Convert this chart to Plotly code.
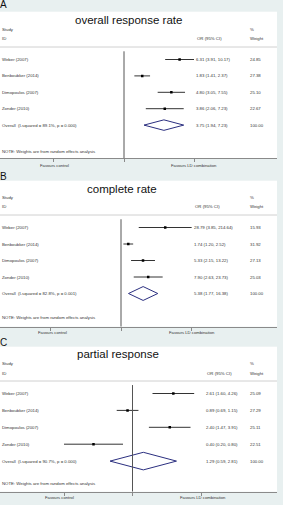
import math
import plotly.graph_objects as go

# ---------------- data ----------------
studies = ["Weber (2007)", "Benboubker (2014)", "Dimopoulos (2007)", "Zonder (2010)"]

titles = ["overall response rate", "complete rate", "partial response"]
letters = ["A", "B", "C"]

or_a = [6.31, 1.83, 4.80, 3.86]
lo_a = [3.91, 1.41, 3.05, 2.06]
hi_a = [10.17, 2.37, 7.55, 7.23]
wt_a = [24.85, 27.38, 25.10, 22.67]
overall_a = [3.75, 1.94, 7.23]
het_a = ["89.1%", "0.000"]
axmax_a = 10.17

or_b = [28.79, 1.74, 5.33, 7.90]
lo_b = [3.85, 1.20, 2.15, 2.63]
hi_b = [214.64, 2.52, 13.22, 23.73]
wt_b = [15.93, 31.92, 27.13, 25.03]
overall_b = [5.38, 1.77, 16.38]
het_b = ["82.8%", "0.001"]
axmax_b = 214.64

or_c = [2.61, 0.89, 2.40, 0.40]
lo_c = [1.60, 0.69, 1.47, 0.20]
hi_c = [4.26, 1.15, 3.91, 0.80]
wt_c = [25.09, 27.29, 25.11, 22.51]
overall_c = [1.29, 0.59, 2.81]
het_c = ["90.7%", "0.000"]
axmax_c = 5.0

data = [
    (or_a, lo_a, hi_a, wt_a, overall_a, het_a, axmax_a),
    (or_b, lo_b, hi_b, wt_b, overall_b, het_b, axmax_b),
    (or_c, lo_c, hi_c, wt_c, overall_c, het_c, axmax_c),
]

# ---------------- layout (pixel geometry) ----------------
W, H = 283, 505
PLOT_R = 277
geo = [
    dict(top=11.7, bottom=158.3, row1=59.5, sp=16.4, xnull=124, ppd=69.5, dh=0.32,
         orx=195.5, tx=128, ty=20, ly=4, note=151, favl=54, favr=194, favy=165),
    dict(top=180.7, bottom=326.7, row1=227.5, sp=16.5, xnull=121, ppd=30.3, dh=0.42,
         orx=194, tx=122, ty=189.3, ly=176.7, note=317.7, favl=52, favr=191.7, favy=332.7),
    dict(top=346.7, bottom=491.7, row1=393.5, sp=16.9, xnull=132.5, ppd=98, dh=0.52,
         orx=205.5, tx=118, ty=354, ly=342.7, note=483.3, favl=59.5, favr=202.5, favy=497.7),
]

FONT = "Arial, Liberation Sans, sans-serif"
SMALL = 4.3
TXT = "#333333"
NAVY = "#2b2f80"


def xp(x):
    return x / W


def yp(y):
    return 1 - y / H


fig = go.Figure()
annotations = []
shapes = []
layout_axes = {}

for i, (d, g) in enumerate(zip(data, geo)):
    n = "" if i == 0 else str(i + 1)
    xr, yr = "x" + n, "y" + n
    ors, los, his, wts, ov, het, axmax = d

    def row_of(px_y, g=g):
        return 1 + (px_y - g["row1"]) / g["sp"]

    rows = [k + 1 for k in range(len(studies))]
    ov_row = len(studies) + 1

    # CI lines
    xs, ys = [], []
    for lo, hi, r in zip(los, his, rows):
        xs += [lo, hi, None]
        ys += [r, r, None]
    fig.add_trace(go.Scatter(x=xs, y=ys, mode="lines", line=dict(color="#333333", width=1),
                             xaxis=xr, yaxis=yr, hoverinfo="skip", showlegend=False))
    # point estimates
    fig.add_trace(go.Scatter(x=ors, y=rows, mode="markers",
                             marker=dict(symbol="square", size=2.5, color="black"),
                             xaxis=xr, yaxis=yr, showlegend=False))
    # overall diamond
    est, olo, ohi = ov
    h = g["dh"]
    fig.add_trace(go.Scatter(x=[olo, est, ohi, est, olo],
                             y=[ov_row, ov_row - h, ov_row, ov_row + h, ov_row],
                             mode="lines", line=dict(color=NAVY, width=1),
                             xaxis=xr, yaxis=yr, showlegend=False))

    # axes
    x0 = -g["xnull"] / g["ppd"]
    x1 = (PLOT_R - g["xnull"]) / g["ppd"]
    layout_axes["xaxis" + n] = dict(
        domain=[0, xp(PLOT_R)], anchor=yr, type="log", range=[x0, x1],
        showgrid=False, zeroline=False, showline=True, linecolor="#8a8a8a", linewidth=1,
        ticks="outside", ticklen=3, tickcolor="#8a8a8a",
        tickvals=[1 / axmax, 1, axmax], showticklabels=False, fixedrange=True)
    layout_axes["yaxis" + n] = dict(
        domain=[yp(g["bottom"]), yp(g["top"])], anchor=xr,
        range=[row_of(g["bottom"]), row_of(g["top"])],
        showgrid=False, zeroline=False, showline=False, showticklabels=False,
        ticks="", fixedrange=True)

    # null line
    shapes.append(dict(type="line", xref=xr, yref=yr, x0=1, x1=1,
                       y0=0.5, y1=row_of(g["bottom"]),
                       line=dict(color="#555555", width=1)))
    # header separator
    hl = row_of(g["row1"] - 12.5)
    shapes.append(dict(type="line", xref="paper", yref=yr, x0=0, x1=xp(PLOT_R),
                       y0=hl, y1=hl, line=dict(color="#d0d0d0", width=1)))

    def ann(text, x, y, yref="paper", size=SMALL, xanchor="left", color=TXT):
        annotations.append(dict(text=text, x=x, y=y, xref="paper", yref=yref,
                                xanchor=xanchor, yanchor="middle", showarrow=False,
                                borderpad=0, borderwidth=0,
                                font=dict(family=FONT, size=size, color=color)))

    # panel letter and title
    ann(letters[i], xp(0), yp(g["ly"]), size=10, color="#111111")
    ann(titles[i], xp(g["tx"]), yp(g["ty"]), size=11.5, xanchor="center", color="#111111")
    # headers
    ann("Study", xp(2), yp(g["row1"] - 30))
    ann("ID", xp(2), yp(g["row1"] - 20.5))
    ann("OR (95% CI)", xp(g["orx"] + 1), yp(g["row1"] - 20.5))
    ann("%", xp(249.5), yp(g["row1"] - 30))
    ann("Weight", xp(249.5), yp(g["row1"] - 20.5))
    # study rows
    for s, o, lo, hi, w, r in zip(studies, ors, los, his, wts, rows):
        ann(s, xp(2), r, yref=yr)
        ann(f"{o:.2f} ({lo:.2f}, {hi:.2f})", xp(g["orx"]), r, yref=yr)
        ann(f"{w:.2f}", xp(249.5), r, yref=yr)
    ann(f"Overall  (I-squared = {het[0]}, p = {het[1]})", xp(2), ov_row, yref=yr)
    ann(f"{est:.2f} ({olo:.2f}, {ohi:.2f})", xp(g["orx"]), ov_row, yref=yr)
    ann("100.00", xp(249.5), ov_row, yref=yr)
    ann("NOTE: Weights are from random effects analysis", xp(2), yp(g["note"]))
    # favours labels
    ann("Favours control", xp(g["favl"]), yp(g["favy"]), size=4.2, xanchor="center")
    ann("Favours LD combination", xp(g["favr"]), yp(g["favy"]), size=4.2, xanchor="center")

fig.update_layout(
    width=W, height=H, margin=dict(l=0, r=0, t=0, b=0),
    paper_bgcolor="#e8f0f0", plot_bgcolor="white",
    showlegend=False, annotations=annotations, shapes=shapes,
    **layout_axes,
)

fig.write_html("out.html", config={"displayModeBar": False})
